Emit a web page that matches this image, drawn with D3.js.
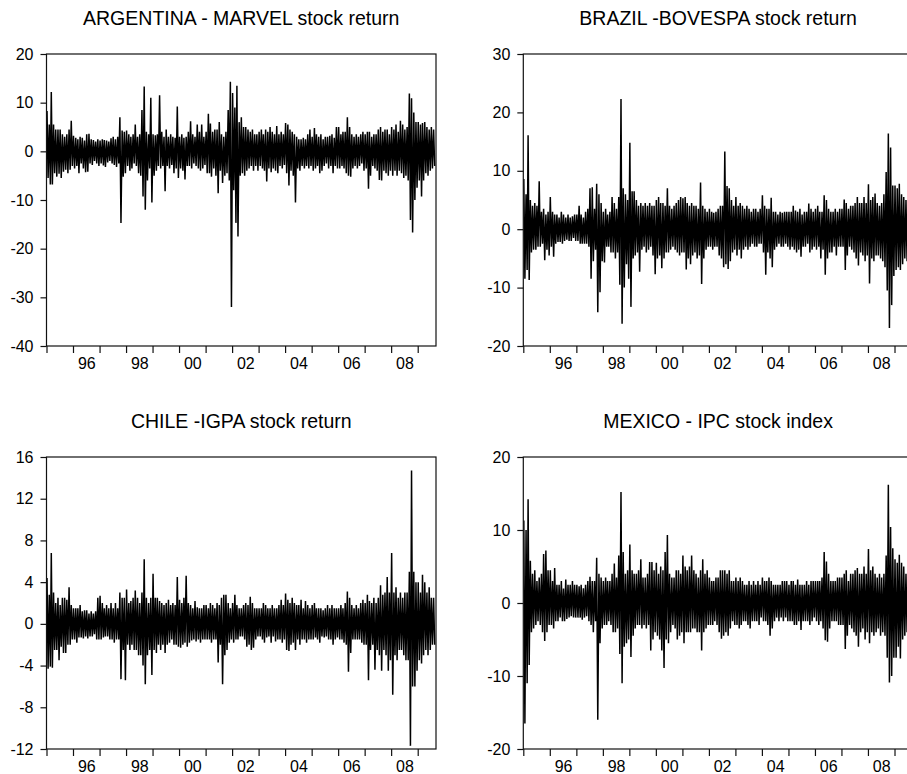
<!DOCTYPE html>
<html>
<head>
<meta charset="utf-8">
<script src="https://cdn.jsdelivr.net/npm/d3@7"></script>
<style>
  body { margin: 0; background: #fff; }
  svg text { font-family: "Liberation Sans", Arial, sans-serif; fill: #000; }
</style>
</head>
<body>
<svg id="chart" width="907" height="774"></svg>
<script>
// monthly high / low of the daily returns, Jan 1995 .. Aug 2009
const argHi = [
  8.3, 5.5, 12.2, 5.5, 4.5, 4.5, 4.5, 3.5, 3, 3.5, 4.5, 6.3,
  3.2, 2.8, 2.5, 3, 2.8, 2.2, 3.5, 3.6, 2.5, 2.3, 2, 2.5,
  2.2, 2.5, 2.3, 2.2, 2, 2.7, 3, 2.5, 3, 7, 4.3, 4,
  4.3, 3.5, 3, 3.5, 5.5, 3, 3.5, 8.5, 13.3, 4, 3.5, 11,
  3.5, 3.3, 3.5, 11.5, 4, 3, 4.5, 3, 3.5, 3, 2.8, 9.2,
  3, 3.5, 2.8, 3, 4, 6.2, 3.5, 3, 5.5, 4, 5.5, 3,
  4, 7.7, 5.7, 4, 4.5, 4.5, 6, 3.5, 3, 4, 8.5, 14.3,
  12, 9, 13.5, 6, 7, 5, 5, 4.5, 4, 4.5, 3.5, 3.5,
  4, 4.5, 3.5, 4.5, 4, 5, 4, 3.5, 5.2, 3.5, 4, 3.5,
  5.8, 5.5, 4.5, 4, 3.5, 3, 2.5, 2.5, 2.8, 2.5, 3.5, 4.5,
  3, 4.8, 3.5, 3, 3.5, 2.5, 3, 3, 3.2, 3.5, 2.8, 5,
  5, 3.5, 4, 4, 7, 5, 3.5, 3, 3.5, 3, 3.5, 4,
  3.5, 4, 4, 3, 3.5, 3.5, 4.5, 5, 4, 4.5, 4.5, 3.5,
  5, 4.5, 5.5, 4, 6.3, 5.5, 4.5, 5, 11.9, 10.9, 8, 6,
  6, 5.5, 5.8, 6, 5, 4.5, 5, 4.5
]
const argLo = [
  -5.5, -6.8, -6.8, -4.5, -5.2, -4.6, -5.5, -4.2, -3.8, -4.5, -3.8, -3,
  -3.5, -3, -4.5, -2.5, -3.5, -4.3, -4.2, -2.5, -2.8, -2, -2.5, -3,
  -2.5, -2.9, -3.2, -2.3, -2, -2.5, -2.8, -3.2, -2.5, -14.7, -5.2, -4.5,
  -3, -4, -3.5, -2.5, -3, -4.5, -5, -9.3, -12, -6, -3.5, -10.5,
  -5, -4, -3, -3.5, -3, -8.2, -3, -3.5, -2.8, -4.5, -3.5, -5.5,
  -3.5, -4, -5.8, -3, -3, -3.5, -2.5, -3, -3.5, -4, -3.5, -2.8,
  -4.5, -4.5, -5.2, -3.5, -5, -8.6, -4, -6.5, -5, -4.5, -6, -32,
  -8, -14.7, -17.5, -5, -4.5, -5, -4, -3.5, -3, -4, -3, -4,
  -3, -3.5, -4, -6.2, -3.5, -4.3, -3.5, -4, -4.5, -3, -3.5, -2.8,
  -4.5, -7, -4, -5, -10.5, -3.5, -4, -3, -3.5, -3, -3.5, -3,
  -4, -3.5, -3, -4.5, -4, -3, -2.5, -3.5, -3, -4.5, -3, -3.5,
  -3.5, -3, -3.5, -4.5, -5, -5.2, -3.5, -3, -3.5, -3, -2.5, -4,
  -3.5, -7.7, -5, -3, -3.5, -4, -5.9, -6, -4, -4.5, -5, -4,
  -5, -4, -5, -4, -4.5, -5.5, -5, -6, -14.1, -16.7, -10, -7.5,
  -6, -9.3, -6, -4.5, -5, -4, -3.5, -3
]
const braHi = [
  8.6, 6, 16.1, 5, 4, 4.5, 4, 8.2, 3, 3.5, 2.5, 3,
  5.5, 3, 2.5, 2.5, 2, 3, 2.5, 2, 2.5, 2, 2.2, 2.5,
  2.5, 4, 2.5, 2, 3, 3.5, 7, 7.2, 3.5, 7.8, 6, 4.5,
  3, 3.5, 2.5, 3, 5.5, 4.5, 3.5, 5.5, 22.3, 7, 6, 5,
  14.8, 6.5, 6.5, 5, 4, 4.5, 4, 4.5, 4, 4.5, 4, 4,
  5, 5.5, 4.5, 4.5, 4, 7, 4, 3.5, 4, 4.5, 5, 5.5,
  5.3, 5.5, 4.5, 4, 4.5, 4, 4, 3.5, 8, 4, 3.5, 3,
  3.5, 3, 2.8, 3, 3.5, 4, 4, 13.3, 7.4, 7, 5, 4,
  5.5, 4, 4.5, 4, 3.5, 4, 3.5, 3, 3.5, 3.5, 3, 3.5,
  5.8, 4, 3.5, 3.5, 5.4, 3, 3, 2.5, 3, 2.8, 3, 3,
  3, 3, 4, 3.2, 3, 3.5, 2.5, 3, 3, 4.4, 3.5, 3,
  3.5, 4, 3, 3, 5.8, 5, 3.5, 3, 3, 3.5, 3, 3.5,
  3.5, 5.1, 4.5, 3.5, 4, 4, 4.5, 5.5, 4.5, 4.5, 5.5, 4.5,
  7.7, 5, 5.5, 6.1, 4.5, 4, 4.5, 6, 9.8, 16.4, 14, 7.5,
  7.5, 7, 7.8, 6, 5.5, 5, 4.5, 4.5
]
const braLo = [
  -8.5, -7, -8.7, -4, -3.5, -3.5, -3, -3, -2.5, -5.3, -3.5, -4.5,
  -3, -4.7, -2.5, -2.2, -2.2, -2.5, -2, -1.8, -2, -2, -1.5, -2,
  -2, -2.5, -2.5, -2.5, -2.5, -3, -8.5, -5.5, -3.5, -14.2, -10.8, -5.5,
  -5.7, -3, -3, -4, -4, -5, -4, -9.5, -16.2, -10, -6, -8.5,
  -13.3, -5, -4.5, -4, -7.3, -3.5, -3, -4, -3.5, -3, -4.5, -7.7,
  -5, -4.5, -6.7, -5, -4, -4, -3.5, -3, -3.5, -4, -4.5, -4,
  -4, -6.9, -5, -6, -4.5, -4, -5, -4.5, -9.4, -5, -3.5, -3,
  -3, -3.5, -3, -3, -4.5, -5, -6.5, -6, -6.8, -5.5, -4, -3.5,
  -4.5, -3.5, -5, -3.5, -3, -3.5, -3, -2.5, -3, -3, -2.5, -2.5,
  -4, -7.8, -4, -5, -6.5, -3.5, -3, -2.5, -3, -3, -2.5, -3,
  -3.5, -3, -3.5, -4, -3.5, -4.7, -3, -3, -2.5, -4, -3.5, -3,
  -3.5, -3, -5, -3.5, -7.8, -5, -4, -4, -3, -4.5, -3, -3,
  -3, -7, -4.5, -3, -3.5, -4, -5, -6.2, -4, -4.5, -5.5, -4.5,
  -9.3, -5, -5.5, -4.5, -4.5, -5, -5.5, -6.5, -10.5, -16.9, -13, -8,
  -7, -6.5, -7, -6, -5, -5.5, -4.5, -4
]
const chiHi = [
  4.4, 2.8, 6.8, 3, 2, 2.5, 1.8, 2.5, 2.5, 2.3, 3.5, 1.8,
  1.5, 1.5, 1.5, 1.8, 1.2, 1.3, 1.3, 1, 1.2, 1, 1.2, 2.5,
  2.7, 2, 1.5, 1.8, 1.5, 2, 1.5, 2, 1.5, 3, 2.5, 2.5,
  3.3, 2, 2.2, 2.5, 3.2, 2.5, 2, 3, 6.2, 2.5, 2, 2.5,
  4.8, 2.5, 2.5, 2.2, 2, 1.8, 2, 2.3, 1.8, 2, 1.8, 4.5,
  2.3, 2, 2.5, 4.6, 2, 1.8, 1.5, 2.2, 1.6, 1.5, 1.5, 1.8,
  1.8, 1.5, 2, 1.8, 1.5, 2, 1.8, 2.5, 2.8, 2.8, 2, 1.5,
  2, 2.8, 1.8, 1.5, 1.5, 1.8, 2, 1.8, 2.6, 2, 1.5, 1.5,
  1.5, 1.5, 2, 1.8, 1.5, 1.5, 1.8, 1.5, 1.5, 1.8, 2.3, 1.8,
  2.9, 2.3, 2, 2.5, 2, 1.8, 1.8, 2.3, 1.5, 2.2, 1.8, 1.5,
  1.8, 2, 1.5, 1.5, 1.5, 1.3, 1.5, 1.8, 1.5, 1.8, 1.5, 1.5,
  1.5, 1.8, 1.5, 2, 3.1, 2.5, 1.8, 1.5, 1.8, 1.5, 2, 2.3,
  2, 2.8, 2.2, 2, 2.5, 2, 2.5, 3.7, 2.8, 3, 4.5, 3,
  6.8, 3, 3.5, 2.5, 3, 2.5, 3, 3, 5, 14.7, 5, 4,
  4, 3, 4.7, 4, 3, 3.5, 2.5, 2.5
]
const chiLo = [
  -4.3, -4.1, -4.2, -2.5, -2.5, -3.5, -2.2, -2.8, -2.8, -2, -2, -1.5,
  -1.5, -1.8, -1.3, -1.3, -1.4, -1.2, -1.4, -1.2, -1.2, -1, -1.5, -1.5,
  -1.5, -1.3, -1.2, -1.2, -1.5, -1.5, -1.8, -1.5, -1.5, -5.3, -2.5, -5.4,
  -2, -2.5, -2, -2.5, -2.5, -3, -3, -4, -5.8, -3, -2.5, -4.9,
  -2.5, -2.8, -2, -2.5, -2, -2.8, -2, -1.8, -1.5, -2, -2, -2.2,
  -2.3, -2, -1.8, -2.2, -1.8, -1.6, -1.5, -1.7, -1.5, -1.8, -1.5, -1.5,
  -1.5, -1.5, -1.8, -1.5, -1.5, -3.7, -2, -5.8, -3, -2.5, -1.8, -1.5,
  -1.8, -1.5, -1.5, -1.2, -1.2, -1.5, -2.2, -2, -2.5, -2.3, -1.5, -1.2,
  -1.2, -1.5, -1.8, -1.3, -1.2, -1.8, -1.2, -1.7, -1.5, -1.5, -1.8, -1.5,
  -2.5, -2.6, -2, -1.8, -2.5, -1.5, -2, -1.5, -1.5, -1.8, -1.5, -1.5,
  -1.5, -1.3, -1.5, -1.8, -1.2, -1.3, -1.2, -1.5, -1.5, -2, -1.5, -1.3,
  -1.5, -1.5, -1.8, -2, -4.6, -2.8, -1.5, -1.5, -1.5, -1.5, -1.8, -2,
  -2, -5.4, -2.5, -2, -4.4, -2.5, -3, -4.5, -2.5, -3, -4.5, -3.5,
  -6.8, -3, -3.5, -2.5, -2.5, -3, -3.5, -3.5, -11.7, -6, -6, -4.5,
  -3.5, -3.8, -3, -2.5, -3, -2.5, -2, -2
]
const mexHi = [
  11.3, 10, 14.2, 5.8, 4, 4.5, 3, 3.5, 4, 6.7, 7.2, 4.5,
  4.5, 3, 4.8, 2.5, 2.5, 3, 2, 3.2, 2.5, 2.5, 3, 2.5,
  2.5, 2.3, 2.5, 2, 2.5, 3, 3.6, 3, 3, 6.2, 4, 3.5,
  3, 3.5, 3, 3, 4, 5.4, 3.5, 6.5, 15.2, 7, 4, 4.5,
  8, 4.5, 4, 4, 4.5, 6, 3.5, 3.5, 4, 5.6, 5.6, 4.5,
  5.5, 4, 5, 4.5, 7, 9.3, 4, 3.5, 3.5, 4.5, 4.5, 4,
  6.5, 5, 4.5, 5, 6.5, 4.5, 4, 3.5, 4.5, 6, 4, 4.5,
  3.5, 3, 3, 3.5, 3.5, 4.5, 4.5, 4.5, 4, 4.5, 3, 3,
  3.5, 3, 3.5, 3, 2.5, 2.5, 3, 2.5, 3, 2.5, 3, 2.5,
  3.5, 3, 3, 3.5, 3, 2.5, 2.5, 2.5, 2.5, 3, 3, 3,
  2.5, 3, 3, 2.5, 3.2, 2.5, 2.5, 2.5, 3, 2.5, 3, 3,
  3, 3, 3, 3.5, 7, 5.7, 4, 3, 3, 3, 3.5, 3.5,
  3.5, 4, 4.5, 3, 4, 4, 4.5, 4.8, 4, 4, 5, 4,
  7.4, 4.5, 5, 4, 3.5, 4, 3.5, 4, 6.5, 16.2, 10.4, 7.5,
  6, 5.5, 6.6, 5.5, 5, 4, 4, 4
]
const mexLo = [
  -16.5, -11, -8.5, -4, -3.5, -3, -2.5, -3, -4, -5.2, -4, -3,
  -3, -3.5, -2.5, -2.5, -2, -2.5, -2.5, -2.2, -2, -1.8, -2, -2,
  -2, -2, -2.3, -2, -1.8, -2.5, -3, -4, -2.5, -16, -5.5, -3.5,
  -3, -3, -2.5, -3, -4, -4, -3.5, -7, -11, -6, -5.5, -5,
  -7.4, -4.5, -3.5, -3, -3, -3.5, -3, -3.5, -3, -6.5, -5, -4,
  -4.5, -5, -6.5, -8.9, -5, -5.5, -4, -3, -3.5, -5, -4.5, -4,
  -5.5, -4, -4, -4, -3.5, -3.5, -4, -4, -6.5, -4, -3.5, -3,
  -3, -3, -2.5, -3, -4, -4.9, -4.5, -4, -4.5, -3.5, -2.5, -3,
  -3, -3.5, -3, -2.5, -2.5, -3, -3.5, -2.5, -2.5, -2.5, -3, -2,
  -2.5, -2.5, -3, -4.5, -3.5, -2.5, -2, -2.5, -2, -2.5, -2, -2.5,
  -2.5, -2.5, -3, -3, -2.5, -3.7, -2.5, -2.5, -2.5, -3, -2.5, -2,
  -2.5, -3, -2.5, -3.5, -5.1, -5.3, -3.5, -2.5, -2.5, -2.5, -3, -3,
  -3, -6.3, -4.5, -3, -3.5, -4, -4.5, -6, -4, -3.5, -5, -4,
  -5.5, -4, -4.5, -4, -3.5, -4.5, -4, -4.5, -7.5, -10.9, -10, -7.5,
  -7.5, -6, -7.6, -5, -4.5, -4, -4, -3.5
]

const argTicks = [-40, -30, -20, -10, 0, 10, 20]
const braTicks = [-20, -10, 0, 10, 20, 30]
const chiTicks = [-12, -8, -4, 0, 4, 8, 12, 16]
const mexTicks = [-20, -10, 0, 10, 20]
const labelYears = [1996, 1998, 2000, 2002, 2004, 2006, 2008]
const labelText = ['96', '98', '00', '02', '04', '06', '08']

const panels = [
  {title: 'ARGENTINA - MARVEL stock return', hi: argHi, lo: argLo, ticks: argTicks, left: 46.5, top: 54},
  {title: 'BRAZIL -BOVESPA stock return', hi: braHi, lo: braLo, ticks: braTicks, left: 523.3, top: 54},
  {title: 'CHILE -IGPA stock return', hi: chiHi, lo: chiLo, ticks: chiTicks, left: 46.5, top: 457},
  {title: 'MEXICO - IPC stock index', hi: mexHi, lo: mexLo, ticks: mexTicks, left: 523.3, top: 457}
]

const width = 389.5,
  height = 292
const svg = d3.select('#chart')

panels.forEach((p, k) => {
  const g = svg.append('g')
    .attr('transform', `translate(${p.left}, ${p.top})`)

  const x = d3.scaleTime()
    .domain([new Date(1995, 0, 1), new Date(2009, 8, 10)])
    .range([0, width])
  const y = d3.scaleLinear()
    .domain(d3.extent(p.ticks))
    .range([height, 0])

  // two points a month: the high early in the month, the low later on
  const pts = []
  p.hi.forEach((v, i) => {
    pts.push({date: new Date(1995, i, 8), v: v})
    pts.push({date: new Date(1995, i, 23), v: p.lo[i]})
  })

  g.append('clipPath')
    .attr('id', 'clip' + k)
    .append('rect')
    .attr('width', width)
    .attr('height', height)

  const line = d3.line()
    .x(d => x(d.date))
    .y(d => y(d.v))
  g.append('path')
    .datum(pts)
    .attr('clip-path', `url(#clip${k})`)
    .attr('d', line)
    .attr('fill', 'none')
    .attr('stroke', '#000')
    .attr('stroke-width', 1.5)
    .attr('stroke-linejoin', 'miter')
    .attr('stroke-miterlimit', 2)

  g.append('rect')
    .attr('width', width)
    .attr('height', height)
    .attr('fill', 'none')
    .attr('stroke', '#111')
    .attr('stroke-width', 1.2)

  // y axis, plain hyphen for negatives
  const yAxis = g.append('g')
    .call(d3.axisLeft(y).tickValues(p.ticks).tickSize(6).tickPadding(7).tickFormat(d => String(d)))
  yAxis.select('.domain').remove()
  yAxis.selectAll('line').attr('stroke', '#111').attr('stroke-width', 1.2)
  yAxis.selectAll('text').attr('font-size', 16)

  // year ticks
  const xTicks = g.append('g')
    .attr('transform', `translate(0, ${height})`)
    .call(d3.axisBottom(x)
      .tickValues(d3.timeYear.range(new Date(1995, 0, 1), new Date(2010, 0, 1)))
      .tickSize(7)
      .tickFormat(''))
  xTicks.select('.domain').remove()
  xTicks.selectAll('line').attr('stroke', '#111').attr('stroke-width', 1.2)

  // labels in the middle of every second year
  const xLab = g.append('g')
    .attr('transform', `translate(0, ${height})`)
    .call(d3.axisBottom(x)
      .tickValues(labelYears.map(yr => new Date(yr, 6, 2)))
      .tickSize(0)
      .tickPadding(12)
      .tickFormat((d, i) => labelText[i]))
  xLab.select('.domain').remove()
  xLab.selectAll('text').attr('font-size', 16)

  g.append('text')
    .attr('x', width / 2)
    .attr('y', -29)
    .attr('text-anchor', 'middle')
    .attr('font-size', 19.5)
    .text(p.title)
})
</script>
</body>
</html>
